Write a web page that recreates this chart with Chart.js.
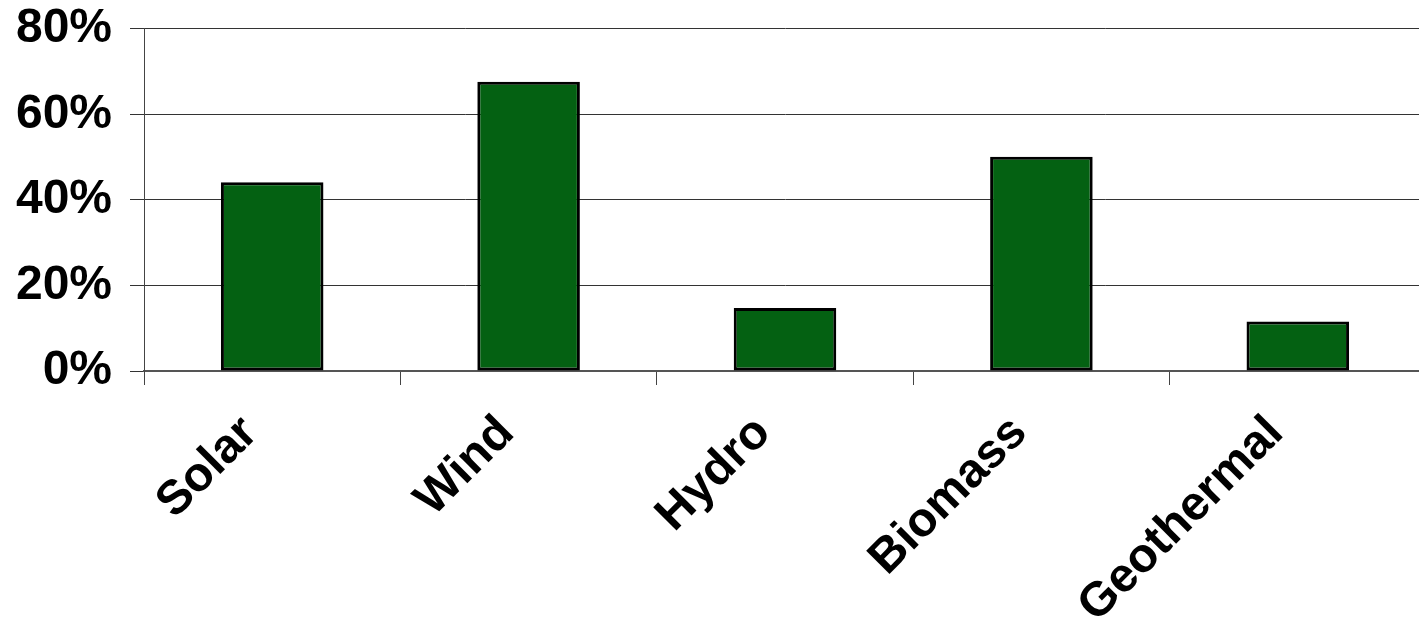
<!DOCTYPE html>
<html>
<head>
<meta charset="utf-8">
<script src="https://cdn.jsdelivr.net/npm/chart.js@4/dist/chart.umd.min.js"></script>
<style>
  html, body { margin: 0; padding: 0; background: #ffffff; overflow: hidden; }
  #wrap { position: relative; top: -18px; width: 1426px; height: 641px; }
</style>
</head>
<body>
<div id="wrap"><canvas id="chart"></canvas></div>
<script>
// Renewable sources and their share values (percent)
const categories = ['Solar', 'Wind', 'Hydro', 'Biomass', 'Geothermal'];
const shareValues = [44.1, 67.6, 14.7, 50.1, 11.6];
const yTickValues = [0, 20, 40, 60, 80];

const labelFont = { family: "'Liberation Sans', Arial, sans-serif", weight: 'bold', size: 48 };

new Chart(document.getElementById('chart'), {
  type: 'bar',
  data: {
    labels: categories,
    datasets: [{
      data: shareValues,
      backgroundColor: '#046112',
      borderColor: '#000000',
      borderWidth: 3,
      borderSkipped: false,
      categoryPercentage: 1.0,
      barPercentage: 0.4
    }]
  },
  options: {
    responsive: true,
    maintainAspectRatio: false,
    animation: false,
    layout: { padding: 0 },
    plugins: { legend: { display: false }, tooltip: { enabled: false } },
    scales: {
      x: {
        afterFit: (scale) => { scale.height = 252; },
        grid: {
          offset: true,
          drawOnChartArea: false,
          drawTicks: true,
          tickLength: 14,
          color: '#444444',
          lineWidth: 1
        },
        border: { display: true, color: '#555555', width: 2 },
        ticks: {
          color: '#000000',
          font: labelFont,
          maxRotation: 45,
          minRotation: 45,
          padding: 20,
          labelOffset: -22
        }
      },
      y: {
        min: 0,
        max: 80,
        afterFit: (scale) => { scale.width = 144; },
        afterBuildTicks: (scale) => { scale.ticks = yTickValues.map(v => ({ value: v })); },
        grid: {
          color: '#333333',
          lineWidth: 1,
          tickLength: 14
        },
        border: { display: true, color: '#444444', width: 1 },
        ticks: {
          color: '#000000',
          font: labelFont,
          padding: 18,
          callback: (v) => v + '%'
        }
      }
    }
  }
});
</script>
</body>
</html>
